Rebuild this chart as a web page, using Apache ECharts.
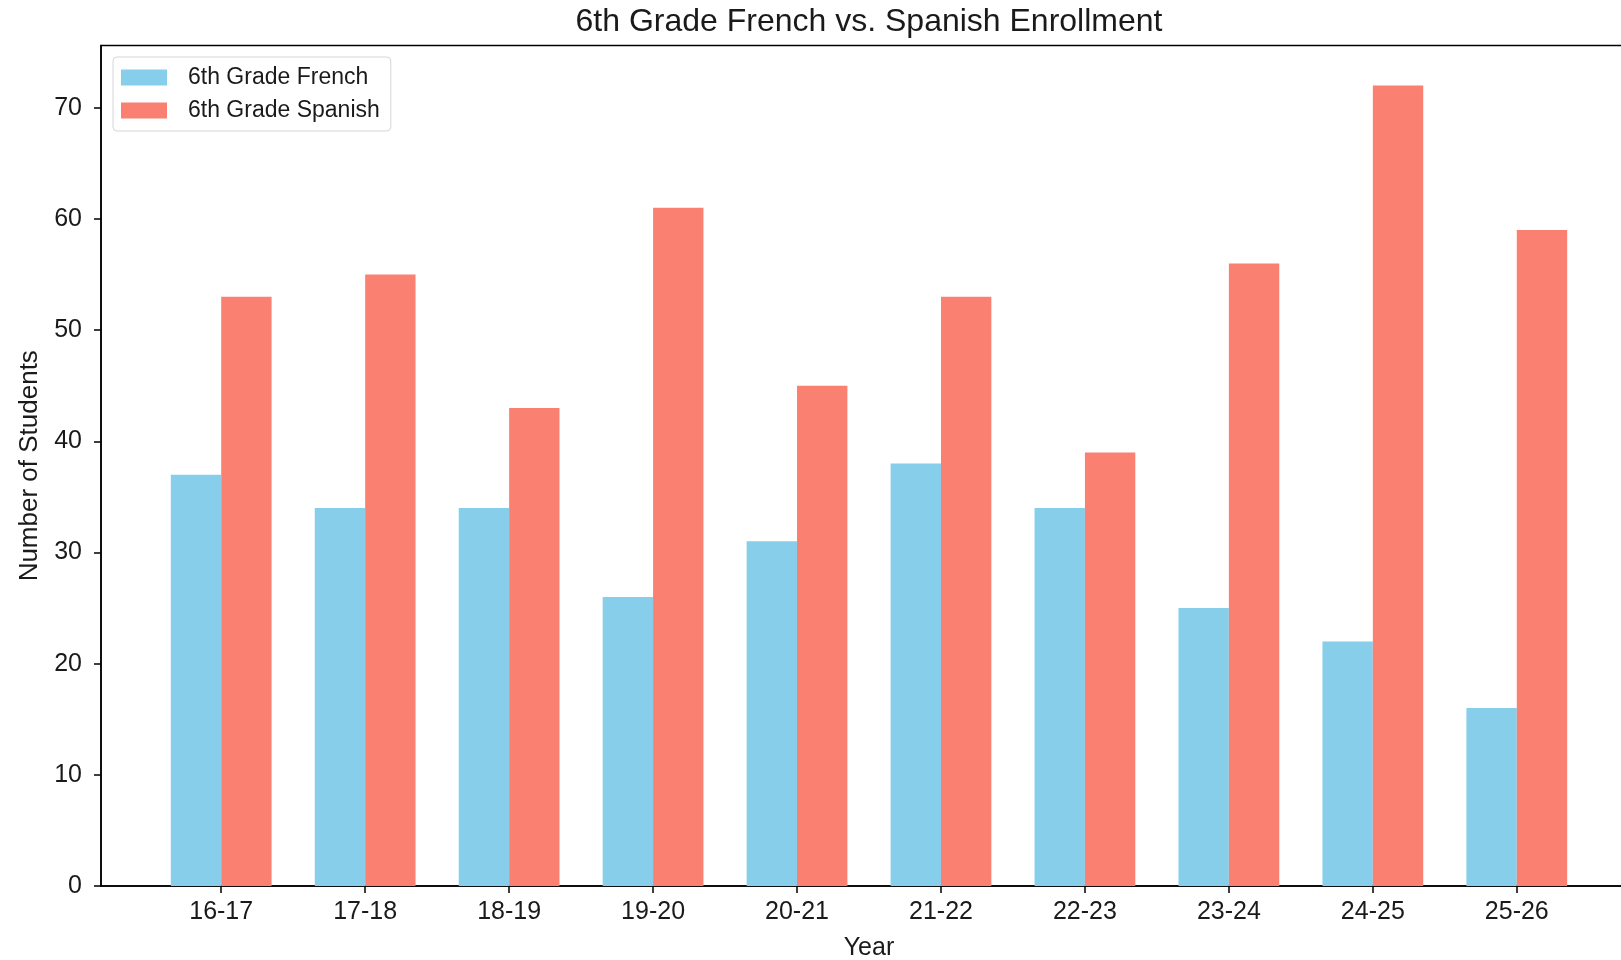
<!DOCTYPE html>
<html>
<head>
<meta charset="utf-8">
<script src="https://cdn.jsdelivr.net/npm/echarts@6/dist/echarts.min.js"></script>
<style>
html,body{margin:0;padding:0;background:#fff;}
#chart{width:1621px;height:960px;}
</style>
</head>
<body>
<div id="chart"></div>
<script>
const years = ['16-17','17-18','18-19','19-20','20-21','21-22','22-23','23-24','24-25','25-26'];
const french = [37, 34, 34, 26, 31, 38, 34, 25, 22, 16];
const spanish = [53, 55, 43, 61, 45, 53, 39, 56, 72, 59];
const yTicks = [0, 10, 20, 30, 40, 50, 60, 70];

const FONT = 'Liberation Sans, Arial, sans-serif';
const gridLeft = 101, gridWidth = 1536;
const xMin = -0.835, xMax = 9.835;
const barW = 0.35 * gridWidth / (xMax - xMin);
const idx = years.map((_, i) => i);

const chart = echarts.init(document.getElementById('chart'), null, {renderer: 'canvas'});
chart.setOption({
  animation: false,
  backgroundColor: '#fff',
  title: {
    text: '6th Grade French vs. Spanish Enrollment',
    left: gridLeft + gridWidth / 2,
    textAlign: 'center',
    top: 6,
    padding: 0,
    textStyle: {fontFamily: FONT, fontSize: 32, fontWeight: 'normal', color: '#1a1a1a'}
  },
  legend: {
    orient: 'vertical',
    left: 113,
    top: 57,
    padding: [9, 11, 9, 8],
    itemWidth: 46,
    itemHeight: 16,
    itemGap: 10,
    icon: 'rect',
    backgroundColor: 'rgba(255,255,255,0.8)',
    borderColor: '#d5d5d5',
    borderWidth: 1,
    borderRadius: 4,
    textStyle: {fontFamily: FONT, fontSize: 23, color: '#1a1a1a', padding: [0, 0, 0, 16]},
    data: ['6th Grade French', '6th Grade Spanish']
  },
  grid: {
    left: gridLeft, width: gridWidth, top: 45.5, bottom: 74,
    outerBoundsMode: 'none', containLabel: false,
    show: true, borderColor: '#000', borderWidth: 1.5, backgroundColor: '#fff'
  },
  xAxis: {
    type: 'value',
    min: xMin, max: xMax,
    name: 'Year', nameLocation: 'middle', nameGap: 50,
    nameTextStyle: {fontFamily: FONT, fontSize: 25, color: '#1a1a1a'},
    axisLine: {show: true, onZero: false, lineStyle: {color: '#000', width: 1.5}},
    axisTick: {show: true, length: 7, lineStyle: {color: '#000', width: 1.5}, customValues: idx},
    axisLabel: {
      fontFamily: FONT, fontSize: 25, color: '#1a1a1a', margin: 14,
      customValues: idx,
      formatter: v => years[Math.round(v)]
    },
    splitLine: {show: false}
  },
  yAxis: {
    type: 'value',
    min: 0, max: 75.6, interval: 10,
    name: 'Number of Students', nameLocation: 'middle', nameRotate: 90, nameGap: 57,
    nameTextStyle: {fontFamily: FONT, fontSize: 26, color: '#1a1a1a'},
    axisLine: {show: true, onZero: false, lineStyle: {color: '#000', width: 1.5}},
    axisTick: {show: true, length: 7, lineStyle: {color: '#000', width: 1.5}, customValues: yTicks},
    axisLabel: {fontFamily: FONT, fontSize: 25, color: '#1a1a1a', margin: 19, customValues: yTicks},
    splitLine: {show: false}
  },
  series: [
    {
      name: '6th Grade French', type: 'bar',
      data: idx.map(i => [i, french[i]]),
      barWidth: barW, barGap: '0%',
      itemStyle: {color: '#87CEEB'}
    },
    {
      name: '6th Grade Spanish', type: 'bar',
      data: idx.map(i => [i, spanish[i]]),
      barWidth: barW, barGap: '0%',
      itemStyle: {color: '#FA8072'}
    }
  ]
});
</script>
</body>
</html>
